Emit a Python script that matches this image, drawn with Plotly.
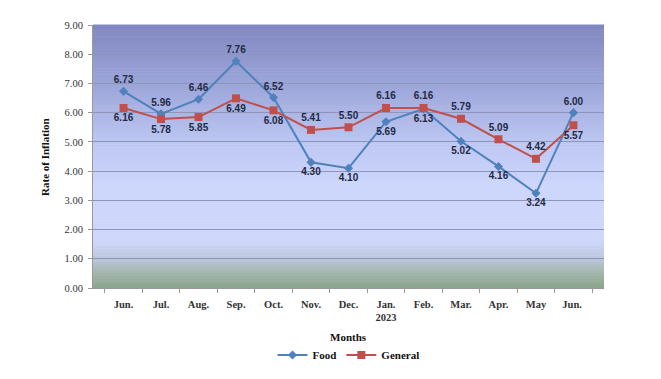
import plotly.graph_objects as go

months = ["Jun.", "Jul.", "Aug.", "Sep.", "Oct.", "Nov.", "Dec.", "Jan.<br>2023",
          "Feb.", "Mar.", "Apr.", "May", "Jun. "]
food = [6.73, 5.96, 6.46, 7.76, 6.52, 4.30, 4.10, 5.69, 6.13, 5.02, 4.16, 3.24, 6.00]
general = [6.16, 5.78, 5.85, 6.49, 6.08, 5.41, 5.50, 6.16, 6.16, 5.79, 5.09, 4.42, 5.57]
food_pos = ["top center"] * 5 + ["bottom center"] * 7 + ["top center"]
general_pos = ["bottom center"] * 5 + ["top center"] * 7 + ["bottom center"]
y_ticks = [0, 1, 2, 3, 4, 5, 6, 7, 8, 9]

serif = "Liberation Serif"
lab_font = dict(family="Liberation Sans", size=10, color="#1f2a44", weight="bold")

fig = go.Figure()
fig.add_trace(go.Scatter(
    x=months, y=food, name="Food", mode="lines+markers+text",
    line=dict(color="#4f81bd", width=2),
    marker=dict(symbol="diamond", size=7, color="#4f81bd"),
    text=[f"{v:.2f}" for v in food], textposition=food_pos, textfont=lab_font,
))
fig.add_trace(go.Scatter(
    x=months, y=general, name="General", mode="lines+markers+text",
    line=dict(color="#c0504d", width=2),
    marker=dict(symbol="square", size=8, color="#c0504d"),
    text=[f"{v:.2f}" for v in general], textposition=general_pos, textfont=lab_font,
))

# background gradient (decoration)
stops = [(0.0, (0x8a, 0xa5, 0x8c)), (0.5 / 9, (0xa2, 0xb6, 0xaa)), (1.0 / 9, (0xbb, 0xc6, 0xdc)),
         (1.6 / 9, (0xcf, 0xd8, 0xfb)), (3.5 / 9, (0xcd, 0xd6, 0xfb)), (5.0 / 9, (0xbc, 0xc6, 0xf2)),
         (7.0 / 9, (0x9c, 0xa5, 0xd8)), (1.0, (0x80, 0x87, 0xc0))]


def col(t):
    for (a, ca), (b, cb) in zip(stops[:-1], stops[1:]):
        if a <= t <= b:
            f = (t - a) / (b - a) if b > a else 0
            return "rgb(%d,%d,%d)" % tuple(round(ca[i] + (cb[i] - ca[i]) * f) for i in range(3))
    return "rgb(128,135,192)"


n = 90
shapes = []
for i in range(n):
    y0 = i / n
    y1 = (i + 1) / n
    shapes.append(dict(type="rect", xref="x domain", yref="y domain", x0=0, x1=1,
                       y0=y0, y1=y1 + 0.002, fillcolor=col((y0 + y1) / 2),
                       line=dict(width=0), layer="below"))

title_font = dict(family=serif, size=11, color="#111", weight="bold")

fig.update_layout(
    width=653, height=371,
    margin=dict(l=85, r=57, t=17, b=91, autoexpand=False),
    paper_bgcolor="white", plot_bgcolor="rgba(0,0,0,0)",
    shapes=shapes,
    showlegend=True,
    legend=dict(orientation="h", x=0.5, xanchor="center", y=-0.255, yanchor="middle",
                font=title_font, tracegroupgap=0),
    annotations=[
        dict(text="Months", xref="paper", yref="paper", x=0.5, y=-0.185, yanchor="middle",
             showarrow=False, font=title_font),
        dict(text="Rate of Inflation", xref="paper", yref="paper", x=-0.095, y=0.5,
             xanchor="center", yanchor="middle", textangle=-90, showarrow=False, font=title_font),
    ],
    xaxis=dict(
        tickfont=dict(family=serif, size=10.5, color="#333", weight="bold"),
        showgrid=False, ticks="outside", tickson="boundaries", ticklen=4,
        tickcolor="#999", showline=True, linecolor="#999", ticklabelstandoff=6,
        automargin=False, fixedrange=True,
    ),
    yaxis=dict(
        range=[0, 9], tickvals=y_ticks, tickformat=".2f",
        tickfont=dict(family=serif, size=10.5, color="#333"),
        showgrid=True, gridcolor="#8e95ba", gridwidth=1,
        ticks="outside", ticklen=4, tickcolor="#999", ticklabelstandoff=3,
        showline=True, linecolor="#999", zeroline=False,
        automargin=False, fixedrange=True,
    ),
)

fig.write_html("out.html")
